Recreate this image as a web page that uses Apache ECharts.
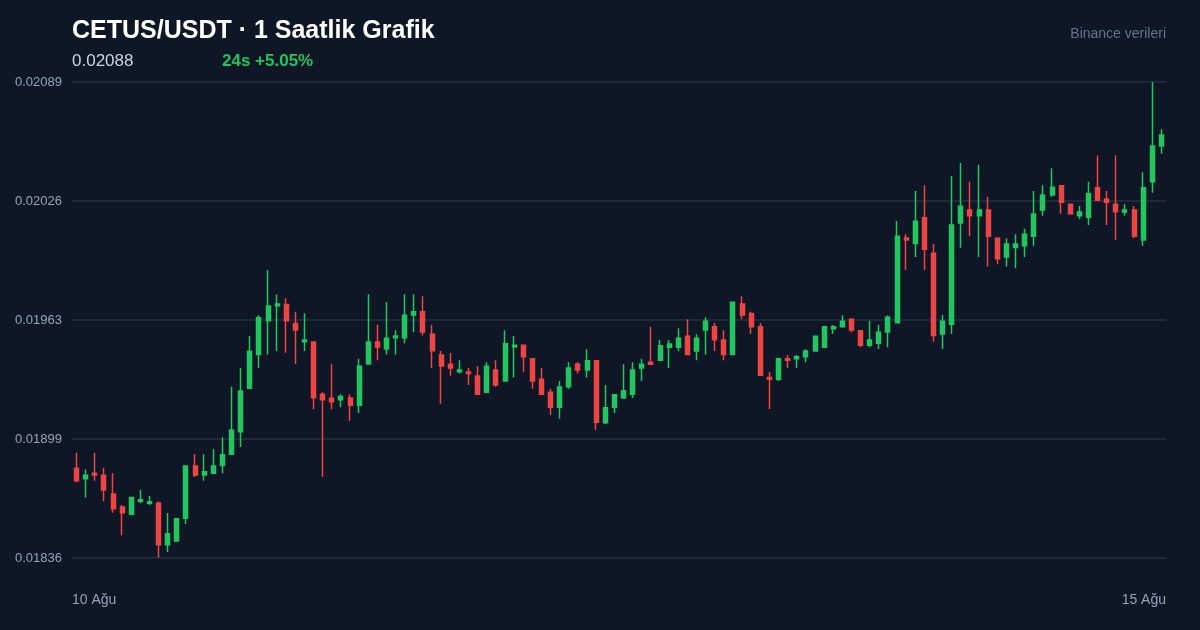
<!DOCTYPE html>
<html>
<head>
<meta charset="utf-8">
<style>
  html, body { margin: 0; padding: 0; background: #0f1726; }
  #chart { width: 1200px; height: 630px; }
</style>
<script src="https://cdn.jsdelivr.net/npm/echarts@6/dist/echarts.min.js"></script>
</head>
<body>
<div id="chart"></div>
<script>
const opens = [
  0.018837, 0.018781, 0.018810, 0.018800, 0.018700, 0.018631, 0.018592, 0.018661, 0.018651, 0.018651,
  0.018431, 0.018450, 0.018571, 0.018849, 0.018801, 0.018810, 0.018851, 0.018911, 0.019031, 0.019262,
  0.019441, 0.019621, 0.019701, 0.019708, 0.019607, 0.019510, 0.019508, 0.019230, 0.019209, 0.019201,
  0.019210, 0.019172, 0.019391, 0.019508, 0.019471, 0.019531, 0.019531, 0.019652, 0.019669, 0.019549,
  0.019439, 0.019390, 0.019350, 0.019349, 0.019327, 0.019241, 0.019359, 0.019301, 0.019481, 0.019491,
  0.019419, 0.019310, 0.019241, 0.019161, 0.019270, 0.019390, 0.019359, 0.019409, 0.019079, 0.019161,
  0.019210, 0.019230, 0.019370, 0.019400, 0.019411, 0.019480, 0.019480, 0.019538, 0.019460, 0.019572,
  0.019589, 0.019519, 0.019441, 0.019710, 0.019659, 0.019589, 0.019320, 0.019310, 0.019419, 0.019419,
  0.019430, 0.019460, 0.019480, 0.019579, 0.019589, 0.019629, 0.019568, 0.019491, 0.019501, 0.019561,
  0.019611, 0.020061, 0.020031, 0.020169, 0.019980, 0.019551, 0.019602, 0.020141, 0.020210, 0.020179,
  0.020210, 0.020059, 0.019960, 0.020011, 0.020020, 0.020070, 0.020210, 0.020289, 0.020339, 0.020240,
  0.020179, 0.020171, 0.020328, 0.020268, 0.020240, 0.020199, 0.020210, 0.020050, 0.020360, 0.020550
];
const closes = [
  0.018771, 0.018800, 0.018801, 0.018721, 0.018622, 0.018601, 0.018681, 0.018670, 0.018659, 0.018431,
  0.018489, 0.018569, 0.018849, 0.018801, 0.018819, 0.018849, 0.018909, 0.019039, 0.019248, 0.019459,
  0.019637, 0.019699, 0.019710, 0.019621, 0.019572, 0.019519, 0.019212, 0.019201, 0.019191, 0.019219,
  0.019172, 0.019379, 0.019508, 0.019481, 0.019528, 0.019540, 0.019650, 0.019669, 0.019561, 0.019462,
  0.019381, 0.019370, 0.019359, 0.019340, 0.019230, 0.019379, 0.019280, 0.019499, 0.019491, 0.019430,
  0.019301, 0.019230, 0.019161, 0.019269, 0.019370, 0.019359, 0.019409, 0.019081, 0.019159, 0.019228,
  0.019249, 0.019359, 0.019390, 0.019390, 0.019488, 0.019497, 0.019528, 0.019441, 0.019528, 0.019618,
  0.019520, 0.019441, 0.019719, 0.019652, 0.019589, 0.019331, 0.019310, 0.019419, 0.019411, 0.019430,
  0.019460, 0.019538, 0.019589, 0.019589, 0.019618, 0.019572, 0.019491, 0.019519, 0.019560, 0.019639,
  0.020070, 0.020050, 0.020150, 0.020001, 0.019542, 0.019618, 0.020130, 0.020229, 0.020179, 0.020210,
  0.020070, 0.019951, 0.020029, 0.020029, 0.020081, 0.020188, 0.020289, 0.020330, 0.020251, 0.020190,
  0.020199, 0.020298, 0.020261, 0.020251, 0.020201, 0.020210, 0.020070, 0.020328, 0.020550, 0.020608
];
const lows = [
  0.018762, 0.018681, 0.018771, 0.018661, 0.018601, 0.018481, 0.018592, 0.018651, 0.018642, 0.018362,
  0.018392, 0.018450, 0.018541, 0.018791, 0.018771, 0.018810, 0.018810, 0.018911, 0.018950, 0.019262,
  0.019370, 0.019441, 0.019460, 0.019451, 0.019391, 0.019460, 0.019150, 0.018792, 0.019150, 0.019161,
  0.019090, 0.019131, 0.019391, 0.019411, 0.019441, 0.019441, 0.019501, 0.019561, 0.019542, 0.019370,
  0.019180, 0.019329, 0.019340, 0.019280, 0.019230, 0.019241, 0.019270, 0.019301, 0.019320, 0.019350,
  0.019260, 0.019230, 0.019120, 0.019100, 0.019260, 0.019340, 0.019320, 0.019040, 0.019071, 0.019131,
  0.019210, 0.019210, 0.019301, 0.019390, 0.019411, 0.019370, 0.019460, 0.019441, 0.019411, 0.019441,
  0.019460, 0.019411, 0.019441, 0.019630, 0.019551, 0.019331, 0.019152, 0.019301, 0.019370, 0.019370,
  0.019400, 0.019460, 0.019480, 0.019551, 0.019589, 0.019560, 0.019480, 0.019480, 0.019471, 0.019480,
  0.019611, 0.019891, 0.019960, 0.019891, 0.019510, 0.019471, 0.019551, 0.020009, 0.020070, 0.019960,
  0.019910, 0.019921, 0.019910, 0.019900, 0.019960, 0.020020, 0.020179, 0.020280, 0.020190, 0.020190,
  0.020160, 0.020130, 0.020261, 0.020130, 0.020050, 0.020179, 0.020059, 0.020020, 0.020302, 0.020509
];
const highs = [
  0.018920, 0.018831, 0.018920, 0.018840, 0.018810, 0.018642, 0.018681, 0.018721, 0.018690, 0.018661,
  0.018599, 0.018569, 0.018849, 0.018911, 0.018911, 0.018939, 0.019002, 0.019270, 0.019370, 0.019540,
  0.019650, 0.019891, 0.019760, 0.019740, 0.019669, 0.019661, 0.019508, 0.019241, 0.019390, 0.019230,
  0.019230, 0.019419, 0.019762, 0.019600, 0.019721, 0.019570, 0.019762, 0.019762, 0.019751, 0.019600,
  0.019460, 0.019450, 0.019411, 0.019370, 0.019379, 0.019400, 0.019411, 0.019570, 0.019540, 0.019491,
  0.019419, 0.019370, 0.019260, 0.019301, 0.019400, 0.019400, 0.019469, 0.019409, 0.019280, 0.019228,
  0.019390, 0.019400, 0.019419, 0.019589, 0.019519, 0.019519, 0.019581, 0.019629, 0.019549, 0.019639,
  0.019609, 0.019570, 0.019719, 0.019751, 0.019669, 0.019609, 0.019349, 0.019419, 0.019439, 0.019439,
  0.019469, 0.019538, 0.019589, 0.019598, 0.019650, 0.019629, 0.019568, 0.019620, 0.019598, 0.019650,
  0.020151, 0.020081, 0.020311, 0.020341, 0.020029, 0.019652, 0.020390, 0.020460, 0.020360, 0.020450,
  0.020280, 0.020059, 0.020059, 0.020081, 0.020110, 0.020311, 0.020341, 0.020431, 0.020339, 0.020240,
  0.020231, 0.020360, 0.020500, 0.020311, 0.020500, 0.020240, 0.020231, 0.020410, 0.020890, 0.020639
];
const yMin = 0.01836;
const yMax = 0.02089;
const tickLabels = ['10 Ağu', '15 Ağu'];
const categories = opens.map((_, i) => i);
const candles = opens.map((o, i) => [o, closes[i], lows[i], highs[i]]);

const chart = echarts.init(document.getElementById('chart'));
const font = '"Liberation Sans", Arial, sans-serif';

chart.setOption({
  animation: false,
  backgroundColor: '#0f1726',
  textStyle: { fontFamily: font },
  title: [
    { text: 'CETUS/USDT · 1 Saatlik Grafik', left: 72, top: 19,
      padding: 0,
      textStyle: { color: '#ffffff', fontSize: 25, fontWeight: 'bold', fontFamily: font } },
    { text: '0.02088', left: 72, top: 53, padding: 0,
      textStyle: { color: '#cbd5e1', fontSize: 17, fontWeight: 'normal', fontFamily: font } },
    { text: '24s +5.05%', left: 222, top: 53, padding: 0,
      textStyle: { color: '#22c55e', fontSize: 17, fontWeight: 'bold', fontFamily: font } },
    { text: 'Binance verileri', right: 34, top: 27, padding: 0,
      textStyle: { color: '#64748b', fontSize: 14, fontWeight: 'normal', fontFamily: font } }
  ],
  grid: { left: 72, right: 34, top: 82, bottom: 72 },
  xAxis: [
    {
      type: 'category',
      data: categories,
      axisLine: { show: false },
      axisTick: { show: false },
      axisLabel: { show: false },
      splitLine: { show: false }
    },
    {
      type: 'category',
      position: 'bottom',
      boundaryGap: false,
      data: tickLabels,
      axisLine: { show: false },
      axisTick: { show: false },
      splitLine: { show: false },
      axisLabel: {
        color: '#94a3b8', fontSize: 14, margin: 35,
        interval: 0, alignMinLabel: 'left', alignMaxLabel: 'right'
      }
    }
  ],
  yAxis: {
    type: 'value',
    min: yMin,
    max: yMax,
    interval: (yMax - yMin) / 4,
    axisLine: { show: false },
    axisTick: { show: false },
    splitLine: { lineStyle: { color: '#1e293b', width: 2 } },
    axisLabel: {
      color: '#94a3b8', fontSize: 13, margin: 10, verticalAlign: 'middle', lineHeight: 15,
      padding: [5, 0, 0, 0],
      formatter: (v) => v.toFixed(5)
    }
  },
  series: [
    {
      type: 'candlestick',
      data: candles,
      barWidth: 4.5,
      clip: false,
      itemStyle: {
        color: '#22c55e',
        color0: '#ef4444',
        borderColor: '#22c55e',
        borderColor0: '#ef4444',
        borderWidth: 1.5
      }
    }
  ]
});
</script>
</body>
</html>
